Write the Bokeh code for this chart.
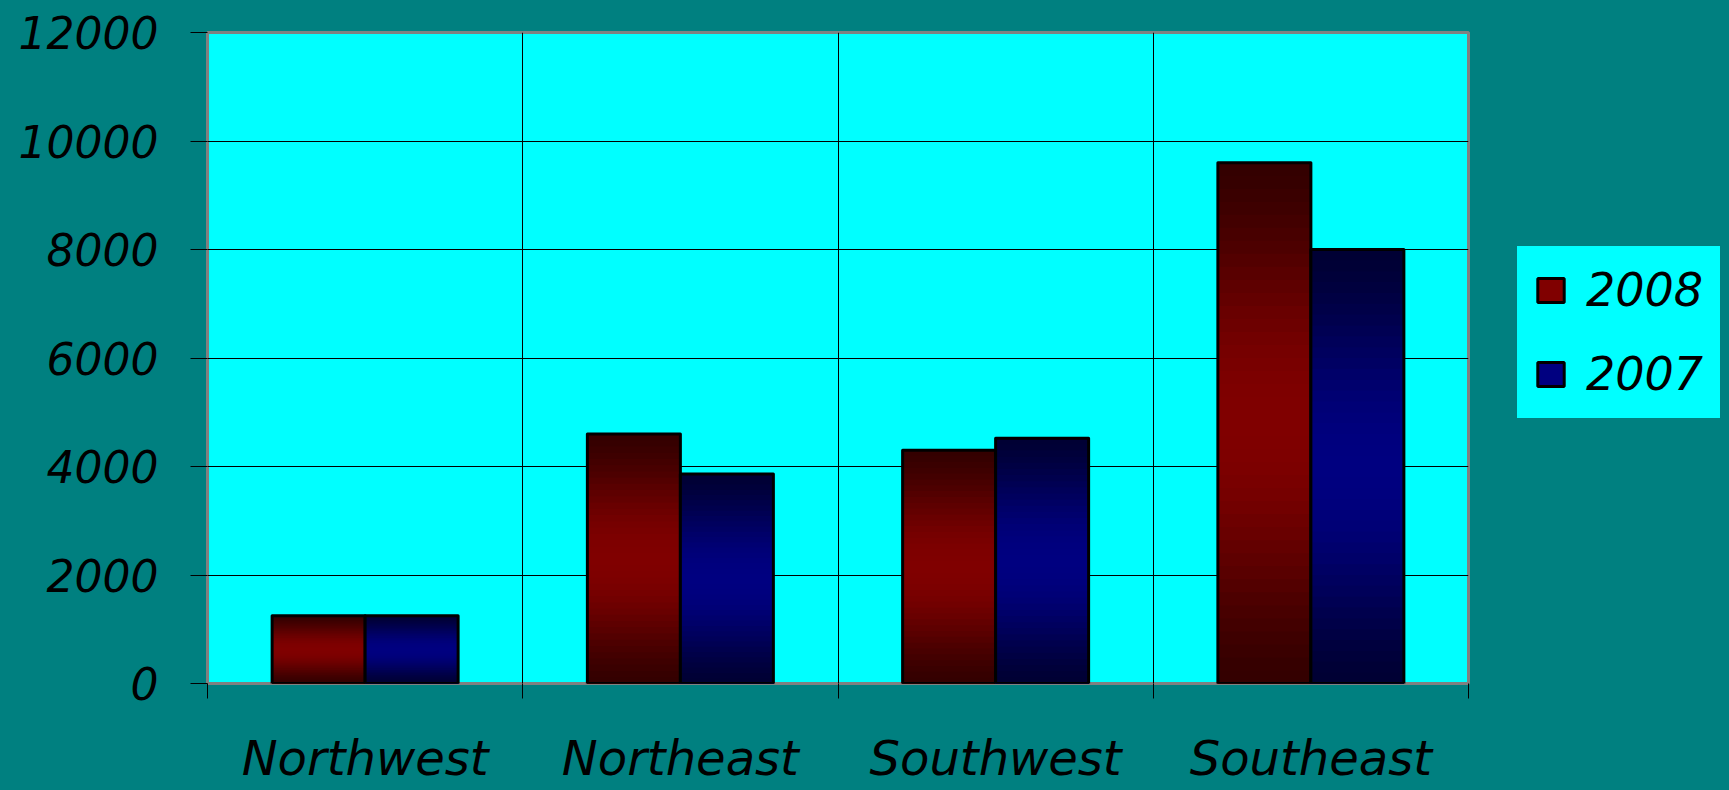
import math
from bokeh.plotting import figure
from bokeh.layouts import row
from bokeh.models import (Range1d, FixedTicker, Legend, LegendItem,
                          ColumnDataSource)
from bokeh.embed import file_html
from bokeh.resources import INLINE

# ---- data ----
regions = ["Northwest", "Northeast", "Southwest", "Southeast"]
series_names = ["2008", "2007"]
values_2008 = [1250, 4600, 4300, 9600]
values_2007 = [1250, 3860, 4520, 8000]
y_ticks = [0, 2000, 4000, 6000, 8000, 10000, 12000]

FONT = "DejaVu Sans"
TEAL = "#008080"
CYAN = "#00FFFF"
MAIN_W, LEG_W, H = 1500, 229, 790

p = figure(width=MAIN_W, height=H, output_backend="svg", toolbar_location=None,
           x_range=Range1d(0, len(regions)), y_range=Range1d(0, 12000),
           min_border_left=207, min_border_right=32,
           min_border_top=32, min_border_bottom=107)
p.border_fill_color = TEAL
p.background_fill_color = CYAN
p.outline_line_color = "#808080"
p.outline_line_width = 3

# y axis
yax = p.yaxis[0]
yax.ticker = FixedTicker(ticks=y_ticks)
yax.axis_line_color = None
yax.major_tick_out = 17
yax.major_tick_in = 0
yax.major_tick_line_color = "black"
yax.minor_tick_line_color = None
yax.major_label_standoff = 32
yax.major_label_text_font = FONT
yax.major_label_text_font_size = "44px"
yax.major_label_text_font_style = "italic"
yax.major_label_text_color = "black"

# x axis: labels at category centres, ticks at category boundaries
xax = p.xaxis[0]
bounds = list(range(len(regions) + 1))
centers = [i + 0.5 for i in range(len(regions))]
xax.ticker = FixedTicker(ticks=centers, minor_ticks=bounds)
xax.major_label_overrides = {c: name for c, name in zip(centers, regions)}
xax.axis_line_color = None
xax.major_tick_out = 0
xax.major_tick_in = 0
xax.major_tick_line_color = None
xax.minor_tick_out = 15
xax.minor_tick_in = 0
xax.minor_tick_line_color = "black"
xax.major_label_standoff = 31
xax.major_label_text_font = FONT
xax.major_label_text_font_size = "48px"
xax.major_label_text_font_style = "italic"
xax.major_label_text_color = "black"

p.xgrid.ticker = FixedTicker(ticks=bounds)
p.xgrid.grid_line_color = "black"
p.xgrid.grid_line_width = 1
p.ygrid.grid_line_color = "black"
p.ygrid.grid_line_width = 1

# bars with vertical gradient (nested rectangles, tallest first)
N = 40
bar_w = 0.295

def shade(t, lo, hi):
    return lo + (hi - lo) * (math.sin(math.pi * t) ** 1.5)

def bar_series(vals, offset, kind):
    xs, tops, cols = [], [], []
    for k in range(N - 1, -1, -1):
        t = (k + 0.5) / N
        c = int(round(shade(t, 0x33, 0x80)))
        col = "#%02x0000" % c if kind == "red" else "#0000%02x" % c
        for i, v in enumerate(vals):
            xs.append(i + 0.5 + offset)
            tops.append(v * (k + 1) / N)
            cols.append(col)
    src = ColumnDataSource(dict(x=xs, top=tops, color=cols))
    p.vbar(x="x", top="top", bottom=0, width=bar_w, source=src,
           fill_color="color", line_color=None)
    osrc = ColumnDataSource(dict(x=[i + 0.5 + offset for i in range(len(vals))],
                                 top=vals))
    p.vbar(x="x", top="top", bottom=0, width=bar_w, source=osrc,
           fill_color=None, line_color="black", line_width=3,
           line_join="round")

bar_series(values_2008, -bar_w / 2, "red")
bar_series(values_2007, bar_w / 2, "blue")

# ---- legend panel (separate figure to the right) ----
q = figure(width=LEG_W, height=H, output_backend="svg", toolbar_location=None,
           x_range=Range1d(0, 1), y_range=Range1d(0, 1),
           x_axis_type=None, y_axis_type=None,
           min_border_left=0, min_border_right=0,
           min_border_top=0, min_border_bottom=0)
q.border_fill_color = TEAL
q.background_fill_color = TEAL
q.outline_line_color = None

leg_colors = ["#800000", "#000080"]
items = []
for name, col in zip(series_names, leg_colors):
    # hidden swatch renderer (only used to draw the legend key)
    r = q.vbar(x=[0.5], top=[0.5], width=0.1, fill_color=col,
               line_color="black", line_width=3)
    r.visible = False
    items.append(LegendItem(label=name, renderers=[r]))

legend = Legend(items=items, location=(16, 264))
legend.background_fill_color = CYAN
legend.background_fill_alpha = 1
legend.border_line_color = "black"
legend.border_line_width = 1
legend.label_text_font = FONT
legend.label_text_font_size = "46px"
legend.label_text_font_style = "italic"
legend.label_text_color = "black"
legend.glyph_width = 33
legend.glyph_height = 30
legend.label_standoff = 19
legend.spacing = 30
legend.padding = 17
legend.margin = 0
q.add_layout(legend)

layout = row(p, q, spacing=0, styles={"background-color": TEAL})
open("out.html", "w").write(file_html(layout, INLINE))
